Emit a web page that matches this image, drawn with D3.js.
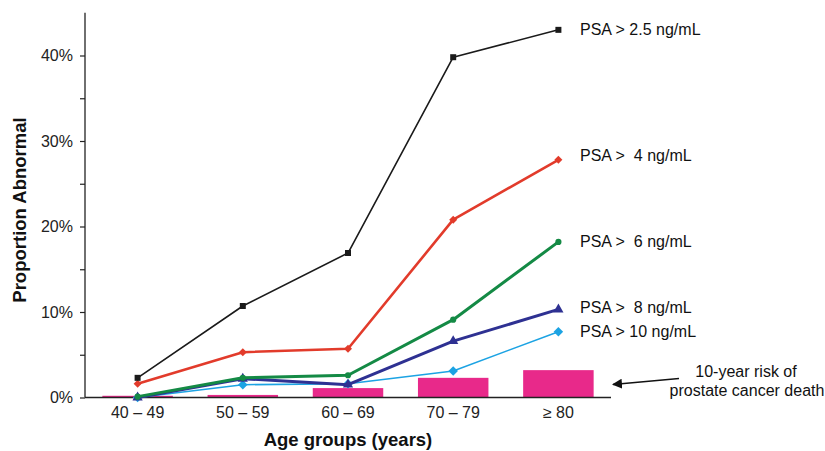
<!DOCTYPE html>
<html>
<head>
<meta charset="utf-8">
<script src="https://cdn.jsdelivr.net/npm/d3@7"></script>
<style>
  body { margin: 0; background: #fff; }
  text { font-family: "Liberation Sans", Arial, sans-serif; }
</style>
</head>
<body>
<div id="app"></div>
<script>
// age groups on the x axis
const ageGroups = ["40 – 49", "50 – 59", "60 – 69", "70 – 79", "≥ 80"]

// proportion abnormal (%) per PSA cutoff
const psa25 = [2.3, 10.7, 16.9, 39.8, 43.0]
const psa4 = [1.6, 5.3, 5.7, 20.8, 27.8]
const psa6 = [0.1, 2.3, 2.6, 9.1, 18.2]
const psa8 = [0.0, 2.2, 1.5, 6.6, 10.3]
const psa10 = [0.0, 1.5, 1.6, 3.1, 7.7]

// 10-year risk of prostate cancer death (%)
const riskDeath = [0.2, 0.3, 1.1, 2.3, 3.2]

const seriesNames = ["PSA > 2.5 ng/mL", "PSA >  4 ng/mL", "PSA >  6 ng/mL", "PSA >  8 ng/mL", "PSA > 10 ng/mL"]
const yTicks = [0, 10, 20, 30, 40]

const width = 825
const height = 451
const font = '"Liberation Sans", Arial, sans-serif'

const svg = d3.select('#app')
.append('svg')
.attr('width', width)
.attr('height', height)

const x = d3.scaleBand()
.domain(ageGroups)
.range([85, 611])
.paddingInner(0.33)
.paddingOuter(0.165)

const y = d3.scaleLinear()
.domain([0, 45])
.range([397.5, 12.75])

const cx = d => x(d) + x.bandwidth() / 2

// bars
svg.append('g')
.selectAll('rect')
.data(riskDeath)
.join('rect')
.attr('x', (d, i) => x(ageGroups[i]))
.attr('y', d => y(d))
.attr('width', x.bandwidth())
.attr('height', d => y(0) - y(d))
.attr('fill', '#e8298a')

// y axis
const yAxis = svg.append('g')
.attr('transform', 'translate(85,0)')
.call(d3.axisLeft(y).tickValues(d3.range(0, 45, 5)).tickSize(5).tickFormat(d => yTicks.includes(d) ? d + '%' : ''))
yAxis.select('.domain').attr('d', `M0,${y(45)}V${y(0)}`).attr('stroke', '#222').attr('stroke-width', 1.3)
yAxis.selectAll('.tick line').attr('stroke', '#222').attr('stroke-width', 1.2)
yAxis.selectAll('.tick text').attr('font-size', 16).attr('fill', '#222').attr('x', -12)
.attr('font-family', font)

// x axis
const xAxis = svg.append('g')
.attr('transform', `translate(0,${y(0)})`)
.call(d3.axisBottom(x).tickSize(0).tickPadding(9))
xAxis.select('.domain').attr('stroke', '#222').attr('stroke-width', 1.3).attr('d', 'M85,0H611')
xAxis.selectAll('.tick text').attr('font-size', 16).attr('fill', '#222')
.attr('font-family', font)

// rotated square for diamond markers
const diamond = {
  draw(ctx, size) {
    const r = Math.sqrt(size / 2)
    ctx.moveTo(0, -r); ctx.lineTo(r, 0); ctx.lineTo(0, r); ctx.lineTo(-r, 0); ctx.closePath()
  }
}

// lines
const series = [
  { name: seriesNames[0], values: psa25, color: '#1a1a1a', w: 1.6, marker: d3.symbolSquare, size: 36, nudge: 0 },
  { name: seriesNames[1], values: psa4, color: '#e23b2b', w: 2.6, marker: diamond, size: 32, nudge: -4 },
  { name: seriesNames[2], values: psa6, color: '#148a45', w: 3, marker: d3.symbolCircle, size: 30, nudge: 0 },
  { name: seriesNames[3], values: psa8, color: '#2e3192', w: 3, marker: d3.symbolTriangle, size: 45, nudge: -2 },
  { name: seriesNames[4], values: psa10, color: '#1ca3e3', w: 1.6, marker: diamond, size: 45, nudge: 0 }
]

const line = d3.line()
.x((d, i) => cx(ageGroups[i]))
.y(d => y(d))

// draw in reverse so black ends on top
series.slice().reverse().forEach(s => {
  const g = svg.append('g')
  g.append('path')
  .attr('d', line(s.values))
  .attr('fill', 'none')
  .attr('stroke', s.color)
  .attr('stroke-width', s.w)
  .attr('stroke-linejoin', 'round')

  g.selectAll('path.m')
  .data(s.values)
  .join('path')
  .attr('class', 'm')
  .attr('d', d3.symbol().type(s.marker).size(s.size))
  .attr('transform', (d, i) => `translate(${cx(ageGroups[i])},${y(d)})`)
  .attr('fill', s.color)

  const last = s.values[s.values.length - 1]
  svg.append('text')
  .attr('x', 580)
  .attr('y', y(last) + s.nudge)
  .attr('dy', '0.35em')
  .attr('font-size', 16)
  .attr('fill', '#111')
  .style('white-space', 'pre')
  .text(s.name)
})

// annotation
const ann = svg.append('text')
.attr('text-anchor', 'middle')
.attr('font-size', 16)
.attr('fill', '#111')
ann.append('tspan').attr('x', 746).attr('y', 377).text('10-year risk of')
ann.append('tspan').attr('x', 747).attr('y', 396).text('prostate cancer death')

svg.append('defs').append('marker')
.attr('id', 'arr')
.attr('viewBox', '0 0 10 10')
.attr('refX', 9).attr('refY', 5)
.attr('markerWidth', 10).attr('markerHeight', 10)
.attr('markerUnits', 'userSpaceOnUse')
.attr('orient', 'auto')
.append('path')
.attr('d', 'M0,0L10,5L0,10z')
.attr('fill', '#111')

svg.append('line')
.attr('x1', 679).attr('y1', 378.5)
.attr('x2', 613).attr('y2', 384.5)
.attr('stroke', '#111')
.attr('stroke-width', 1.5)
.attr('marker-end', 'url(#arr)')

// axis titles
svg.append('text')
.attr('transform', 'translate(26,210) rotate(-90)')
.attr('text-anchor', 'middle')
.attr('font-size', 18.5)
.attr('font-weight', 'bold')
.attr('fill', '#111')
.text('Proportion Abnormal')

svg.append('text')
.attr('x', 348)
.attr('y', 446)
.attr('text-anchor', 'middle')
.attr('font-size', 18.5)
.attr('font-weight', 'bold')
.attr('fill', '#111')
.text('Age groups (years)')
</script>
</body>
</html>
